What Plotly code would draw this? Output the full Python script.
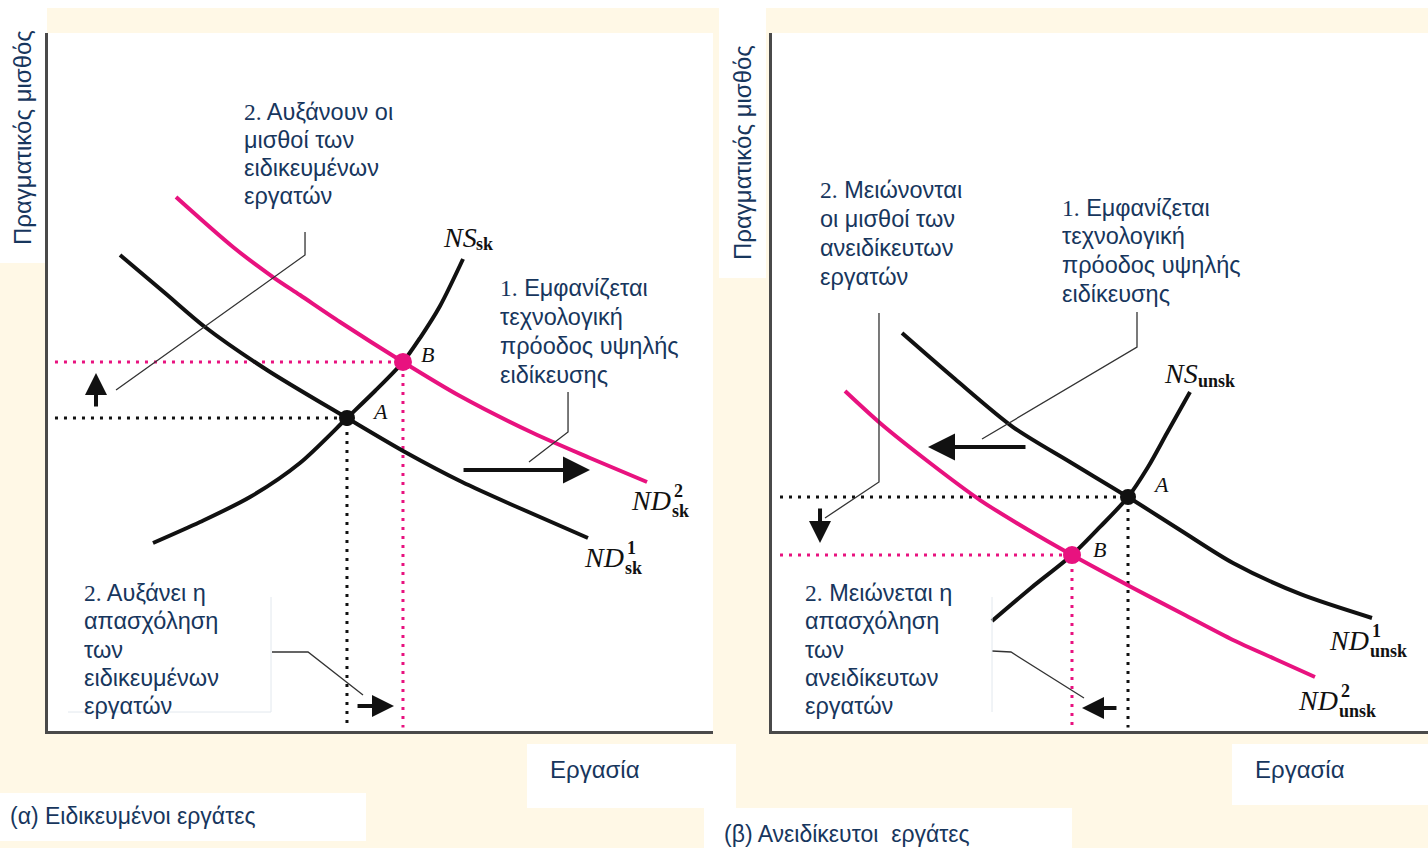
import plotly.graph_objects as go

W, H = 1428, 848
CREAM = "#FFF8E6"
NAVY = "#17365D"
PINK = "#E8127F"
INK = "#111111"
SANS = "Liberation Sans, Arial, sans-serif"
SERIF = "Liberation Serif, Times New Roman, serif"

# ---- panel (a): skilled workers, labour (x) vs real wage (y), units 0-10
sk_nd1_x = [1.083, 1.759, 2.361, 3.293, 4.496, 5.368, 6.226, 7.053, 8.120]
sk_nd1_y = [6.819, 6.275, 5.788, 5.172, 4.484, 3.997, 3.567, 3.209, 2.765]
sk_nd2_x = [1.925, 2.782, 3.383, 3.789, 4.391, 5.338, 6.195, 7.293, 8.150, 9.008]
sk_nd2_y = [7.650, 6.934, 6.504, 6.246, 5.860, 5.287, 4.799, 4.269, 3.911, 3.567]
sk_ns_x = [1.579, 2.286, 3.038, 3.789, 4.496, 4.917, 5.338, 5.594, 5.895, 6.241]
sk_ns_y = [2.693, 2.994, 3.352, 3.840, 4.484, 4.871, 5.287, 5.630, 6.089, 6.762]
sk_A = (4.496, 4.484)
sk_B = (5.338, 5.287)

# ---- panel (b): unskilled workers
un_nd1_x = [1.982, 2.790, 3.674, 4.543, 5.427, 6.220, 7.027, 8.049, 9.146]
un_nd1_y = [5.702, 5.043, 4.355, 3.854, 3.352, 2.880, 2.407, 1.963, 1.619]
un_nd2_x = [1.113, 1.646, 2.409, 3.171, 3.857, 4.573, 5.503, 6.265, 7.027, 7.668, 8.277]
un_nd2_y = [4.871, 4.413, 3.840, 3.309, 2.908, 2.521, 2.049, 1.676, 1.304, 1.032, 0.774]
un_ns_x = [3.354, 3.948, 4.573, 5.000, 5.427, 5.732, 6.021, 6.372]
un_ns_y = [1.576, 2.049, 2.521, 2.923, 3.352, 3.782, 4.269, 4.857]
un_A = (5.427, 3.352)
un_B = (4.573, 2.521)

# shift arrows: (tail_x, tail_y, head_x, head_y)
sk_arrows = [(6.226, 3.739, 8.150, 3.739), (0.722, 4.628, 0.722, 5.129), (4.632, 0.358, 5.203, 0.358)]
un_arrows = [(3.887, 4.069, 2.378, 4.069), (0.732, 3.209, 0.732, 2.693), (5.274, 0.330, 4.726, 0.330)]

# callout leader lines
sk_leaders = [([3.865, 3.865, 1.023], [7.149, 6.819, 4.885]),
              ([7.820, 7.820, 7.233], [4.857, 4.284, 3.854]),
              ([3.368, 3.910, 4.737], [1.132, 1.132, 0.516])]
un_leaders = [([1.631, 1.631, 0.808], [5.989, 3.567, 3.052]),
              ([5.564, 5.564, 3.201], [6.003, 5.501, 4.183]),
              ([3.354, 3.643, 4.756], [1.146, 1.132, 0.473])]

fig = go.Figure()


def px(x):
    return x / W


def py(y):
    return 1 - y / H


def panel(xa, ya, nd1, nd2, ns, A, B, x0, leaders, arrows):
    # guide dots to the axes
    fig.add_trace(go.Scatter(x=[x0, A[0], A[0]], y=[A[1], A[1], 0.05], mode="lines", xaxis=xa, yaxis=ya,
                             line=dict(color=INK, width=3, dash="3px,6px")))
    fig.add_trace(go.Scatter(x=[x0, B[0], B[0]], y=[B[1], B[1], 0.05], mode="lines", xaxis=xa, yaxis=ya,
                             line=dict(color=PINK, width=3, dash="3px,6px")))
    for cx, cy, col in [(nd1[0], nd1[1], INK), (ns[0], ns[1], INK), (nd2[0], nd2[1], PINK)]:
        fig.add_trace(go.Scatter(x=cx, y=cy, mode="lines", xaxis=xa, yaxis=ya,
                                 line=dict(color=col, width=4, shape="spline", smoothing=0.8)))
    for lx, ly in leaders:
        fig.add_trace(go.Scatter(x=lx, y=ly, mode="lines", xaxis=xa, yaxis=ya,
                                 line=dict(color="#333333", width=1.3)))
    fig.add_trace(go.Scatter(x=[A[0]], y=[A[1]], mode="markers", xaxis=xa, yaxis=ya,
                             marker=dict(color=INK, size=16)))
    fig.add_trace(go.Scatter(x=[B[0]], y=[B[1]], mode="markers", xaxis=xa, yaxis=ya,
                             marker=dict(color=PINK, size=18)))
    for tx, ty, hx, hy in arrows:
        big = abs(hx - tx) > 1
        fig.add_annotation(x=hx, y=hy, ax=tx, ay=ty, xref=xa, yref=ya, axref=xa, ayref=ya, text="",
                           showarrow=True, arrowhead=2, arrowsize=1.35 if big else 1.1, arrowwidth=4,
                           arrowcolor=INK)


panel("x", "y", (sk_nd1_x, sk_nd1_y), (sk_nd2_x, sk_nd2_y), (sk_ns_x, sk_ns_y), sk_A, sk_B, 0.105,
      sk_leaders, sk_arrows)
panel("x2", "y2", (un_nd1_x, un_nd1_y), (un_nd2_x, un_nd2_y), (un_ns_x, un_ns_y), un_A, un_B, 0.122,
      un_leaders, un_arrows)

# background patches (white text boxes on the cream page)
boxes = [(0, 0, W, 8), (0, 0, 47, 263), (719, 8, 766, 278), (527, 744, 736, 808),
         (1232, 744, W, 805), (0, 793, 366, 841), (704, 808, 1072, 848)]
for x0, y0, x1, y1 in boxes:
    fig.add_shape(type="rect", xref="paper", yref="paper", x0=px(x0), x1=px(x1), y0=py(y1), y1=py(y0),
                  fillcolor="white", line_width=0, layer="below")
# faint edges of the pasted callout boxes
for x0, y0, x1, y1 in [(271, 597, 271, 712), (68, 712, 271, 712), (992, 597, 992, 712)]:
    fig.add_shape(type="line", xref="paper", yref="paper", x0=px(x0), x1=px(x1), y0=py(y0), y1=py(y1),
                  line=dict(color="#E2E8EE", width=1), layer="above")


def note(x, y, text, size=23.5, font=SANS, color=NAVY, anchor="left", angle=0):
    fig.add_annotation(x=px(x), y=py(y), xref="paper", yref="paper", text=text, showarrow=False,
                       xanchor=anchor, yanchor="middle", textangle=angle,
                       font=dict(family=font, size=size, color=color))


def block(x, y, step, lines):
    for i, ln in enumerate(lines):
        note(x, y + i * step, ln)


def num(n):
    return f'<span style="font-family:Liberation Serif">{n}</span>'


def curve_label(x, y, sup, sub):
    note(x, y, "<i>ND</i>", size=28, font=SERIF, color=INK)
    note(x + 43, y - 9, f"<b>{sup}</b>", size=18, font=SERIF, color=INK)
    note(x + 41, y + 11, f"<b>{sub}</b>", size=18, font=SERIF, color=INK)


block(242, 112, 28, [num("2.") + " Αυξάνουν οι", "μισθοί των", "ειδικευμένων", "εργατών"])
block(498, 288, 29, [num("1.") + " Εμφανίζεται", "τεχνολογική", "πρόοδος υψηλής", "ειδίκευσης"])
block(82, 593, 28.3, [num("2.") + " Αυξάνει η", "απασχόληση", "των", "ειδικευμένων", "εργατών"])
block(818, 190, 29, [num("2.") + " Μειώνονται", "οι μισθοί των", "ανειδίκευτων", "εργατών"])
block(1060, 208, 28.5, [num("1.") + " Εμφανίζεται", "τεχνολογική", "πρόοδος υψηλής", "ειδίκευσης"])
block(803, 593, 28.3, [num("2.") + " Μειώνεται η", "απασχόληση", "των", "ανειδίκευτων", "εργατών"])

note(22, 138, "Πραγματικός μισθός", size=24, anchor="center", angle=-90)
note(742, 153, "Πραγματικός μισθός", size=24, anchor="center", angle=-90)
note(548, 769, "Εργασία", size=24)
note(1253, 769, "Εργασία", size=24)
note(8, 816, "(α) Ειδικευμένοι εργάτες", size=23)
note(722, 834, "(β) Ανειδίκευτοι&nbsp; εργάτες", size=23)

# curve and point labels
note(441, 237, "<i>NS</i>", size=28, font=SERIF, color=INK)
note(474, 244, "<b>sk</b>", size=18, font=SERIF, color=INK)
curve_label(629, 500, "2", "sk")
curve_label(582, 557, "1", "sk")
note(370, 411, "<i>A</i>", size=22, font=SERIF, color=INK)
note(419, 354, "<i>B</i>", size=22, font=SERIF, color=INK)

note(1162, 373, "<i>NS</i>", size=28, font=SERIF, color=INK)
note(1196, 381, "<b>unsk</b>", size=18, font=SERIF, color=INK)
curve_label(1327, 640, "1", "unsk")
curve_label(1296, 700, "2", "unsk")
note(1151, 484, "<i>A</i>", size=22, font=SERIF, color=INK)
note(1091, 549, "<i>B</i>", size=22, font=SERIF, color=INK)

ax_style = dict(range=[0, 10], showgrid=False, zeroline=False, showticklabels=False, ticks="",
                showline=True, linecolor="#4A4A4A", linewidth=2.5, fixedrange=True)
fig.update_layout(
    width=W, height=H, margin=dict(l=0, r=0, t=0, b=0), showlegend=False,
    paper_bgcolor=CREAM, plot_bgcolor="white",
    xaxis=dict(domain=[px(48), px(713)], anchor="y", **ax_style),
    yaxis=dict(domain=[py(731), py(33)], anchor="x", **ax_style),
    xaxis2=dict(domain=[px(772), 1.0], anchor="y2", **ax_style),
    yaxis2=dict(domain=[py(731), py(33)], anchor="x2", **ax_style),
)

fig.write_html("out.html", config={"displayModeBar": False},
               post_script="document.body.style.margin='0';")
